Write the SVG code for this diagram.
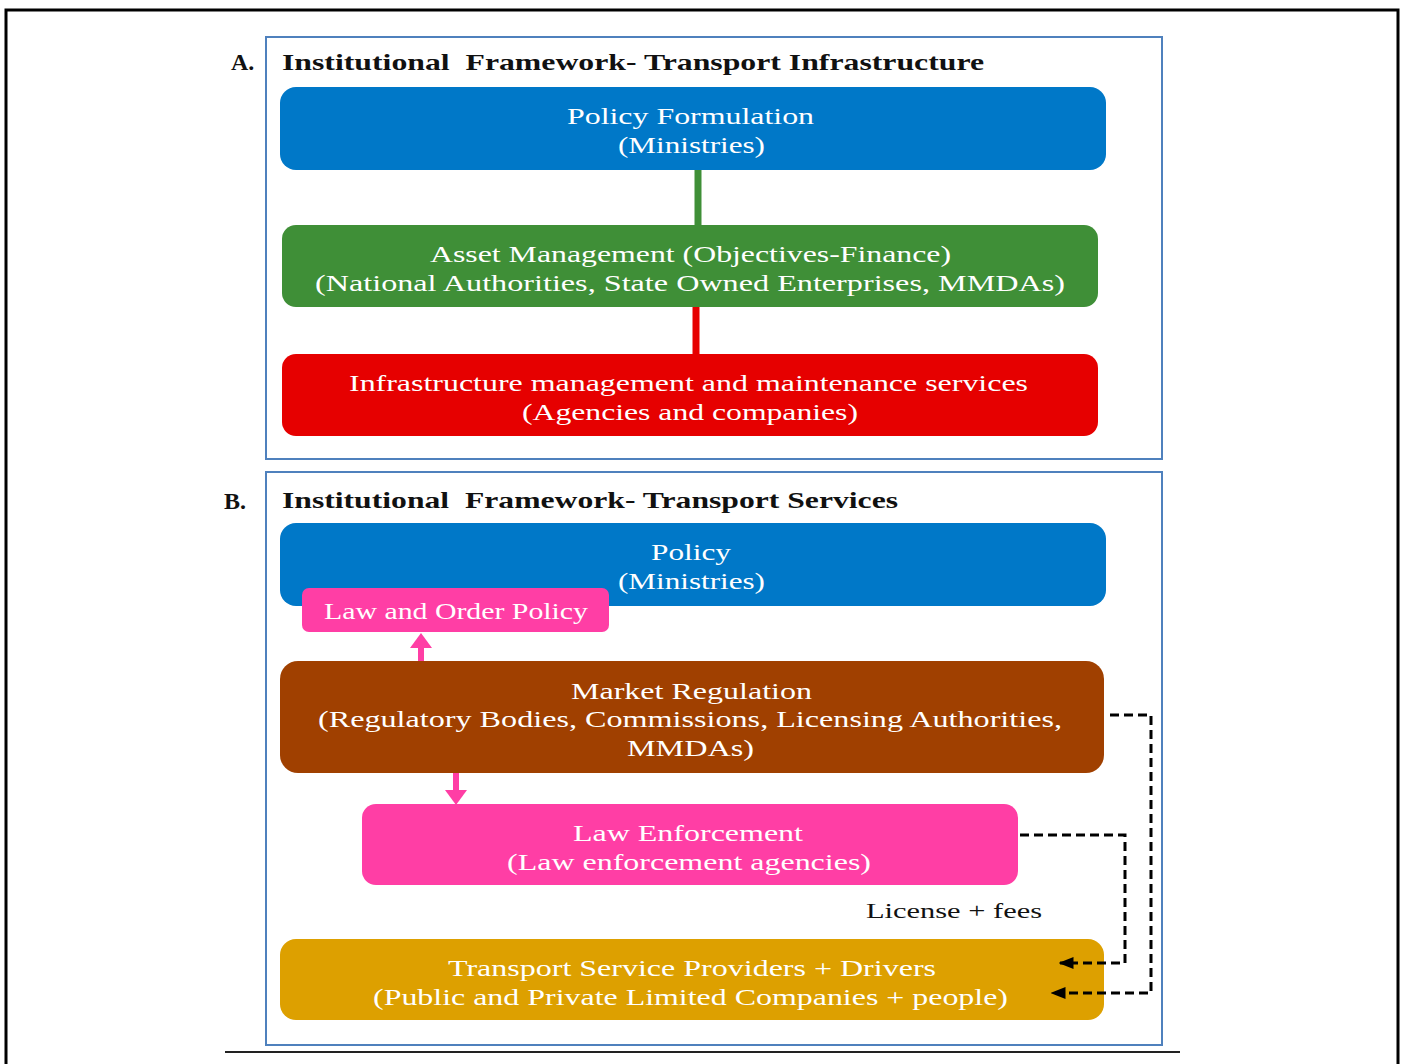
<svg xmlns="http://www.w3.org/2000/svg" width="1403" height="1064" viewBox="0 0 1403 1064">
<defs>
<style>
.panel{fill:#fff;stroke:#4f81bd;stroke-width:2}
.t{font-family:"Liberation Serif","Times New Roman",serif;font-size:24px;fill:#fff;text-anchor:middle}
.h{font-family:"Liberation Serif","Times New Roman",serif;font-size:24px;font-weight:bold;fill:#111}
.dash{fill:none;stroke:#000;stroke-width:3;stroke-dasharray:9,5}
</style>
<marker id="ah" viewBox="0 0 10 10" refX="9" refY="5" markerWidth="5" markerHeight="5" orient="auto" markerUnits="strokeWidth"><path d="M0,1 L10,5 L0,9 Z" fill="#000"/></marker>
</defs>
<rect width="1403" height="1064" fill="#fff"/>
<path d="M6,1064 V10 H1398 V1064" fill="none" stroke="#000" stroke-width="3"/>
<line x1="225" y1="1052" x2="1180" y2="1052" stroke="#222" stroke-width="2"/>

<g id="panelA">
<rect class="panel" x="266" y="37" width="896" height="422"/>
<text class="h" x="231" y="70">A.</text>
<text class="h" x="282" y="70" textLength="702" lengthAdjust="spacingAndGlyphs" xml:space="preserve">Institutional  Framework- Transport Infrastructure</text>
</g>
<g id="panelB">
<rect class="panel" x="266" y="472" width="896" height="573"/>
<text class="h" x="224" y="509">B.</text>
<text class="h" x="282" y="508" textLength="616" lengthAdjust="spacingAndGlyphs" xml:space="preserve">Institutional  Framework- Transport Services</text>
</g>

<g id="policyFormulation">
<rect x="280" y="87" width="826" height="83" rx="16" fill="#0078c8"/>
<text class="t" x="690.5" y="124" textLength="247" lengthAdjust="spacingAndGlyphs">Policy Formulation</text>
<text class="t" x="691.5" y="153" textLength="147" lengthAdjust="spacingAndGlyphs">(Ministries)</text>
</g>
<g id="assetManagement">
<rect x="282" y="225" width="816" height="82" rx="14" fill="#3f8f37"/>
<text class="t" x="690.5" y="262" textLength="521" lengthAdjust="spacingAndGlyphs">Asset Management (Objectives-Finance)</text>
<text class="t" x="690" y="291" textLength="750" lengthAdjust="spacingAndGlyphs">(National Authorities, State Owned Enterprises, MMDAs)</text>
</g>
<g id="infraManagement">
<rect x="282" y="354" width="816" height="82" rx="14" fill="#e60000"/>
<text class="t" x="688.5" y="391" textLength="679" lengthAdjust="spacingAndGlyphs">Infrastructure management and maintenance services</text>
<text class="t" x="690" y="420" textLength="336" lengthAdjust="spacingAndGlyphs">(Agencies and companies)</text>
</g>
<g id="policy">
<rect x="280" y="523" width="826" height="83" rx="16" fill="#0078c8"/>
<text class="t" x="691" y="560" textLength="80" lengthAdjust="spacingAndGlyphs">Policy</text>
<text class="t" x="691.5" y="589" textLength="147" lengthAdjust="spacingAndGlyphs">(Ministries)</text>
</g>
<g id="lawOrderPolicy">
<rect x="302" y="588" width="307" height="44" rx="7" fill="#ff3ea5"/>
<text class="t" x="456" y="619" textLength="264" lengthAdjust="spacingAndGlyphs">Law and Order Policy</text>
</g>
<g id="marketRegulation">
<rect x="280" y="661" width="824" height="112" rx="18" fill="#a04000"/>
<text class="t" x="691.5" y="699" textLength="241" lengthAdjust="spacingAndGlyphs">Market Regulation</text>
<text class="t" x="690" y="727" textLength="744" lengthAdjust="spacingAndGlyphs">(Regulatory Bodies, Commissions, Licensing Authorities,</text>
<text class="t" x="690.5" y="756" textLength="127" lengthAdjust="spacingAndGlyphs">MMDAs)</text>
</g>
<g id="lawEnforcement">
<rect x="362" y="804" width="656" height="81" rx="14" fill="#ff3ea5"/>
<text class="t" x="688" y="841" textLength="230" lengthAdjust="spacingAndGlyphs">Law Enforcement</text>
<text class="t" x="689" y="870" textLength="364" lengthAdjust="spacingAndGlyphs">(Law enforcement agencies)</text>
</g>
<g id="transportProviders">
<rect x="280" y="939" width="824" height="81" rx="16" fill="#dda000"/>
<text class="t" x="692" y="976" textLength="488" lengthAdjust="spacingAndGlyphs">Transport Service Providers + Drivers</text>
<text class="t" x="690.5" y="1005" textLength="635" lengthAdjust="spacingAndGlyphs">(Public and Private Limited Companies + people)</text>
</g>

<g id="connectors">
<line x1="698" y1="170" x2="698" y2="225" stroke="#3f8f37" stroke-width="7"/>
<line x1="696" y1="307" x2="696" y2="354" stroke="#e60000" stroke-width="7"/>
<line x1="421" y1="661" x2="421" y2="646" stroke="#ff3ea5" stroke-width="6"/>
<path d="M410,648 L421,633 L432,648 Z" fill="#ff3ea5"/>
<line x1="456" y1="773" x2="456" y2="792" stroke="#ff3ea5" stroke-width="6"/>
<path d="M445,790 L456,805 L467,790 Z" fill="#ff3ea5"/>
<path class="dash" d="M1110,715 H1151 V993 H1052" marker-end="url(#ah)"/>
<path class="dash" d="M1020,835 H1125 V963 H1060" marker-end="url(#ah)"/>
<text x="954" y="918" font-family="'Liberation Serif','Times New Roman',serif" font-size="22" fill="#111" text-anchor="middle" textLength="176" lengthAdjust="spacingAndGlyphs">License + fees</text>
</g>
</svg>
